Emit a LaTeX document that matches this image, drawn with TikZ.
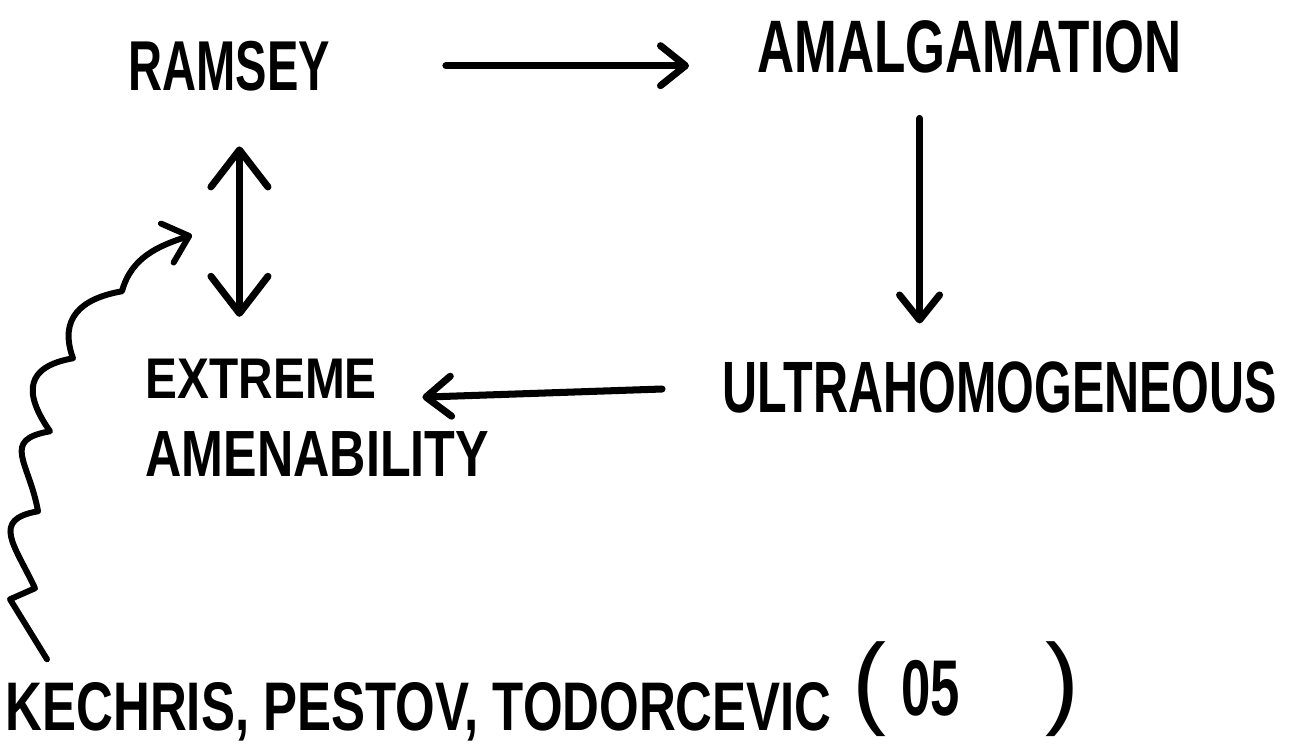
\documentclass[tikz,border=0pt]{standalone}
\usepackage{fontspec}
\setmainfont{Liberation Sans}
\usepackage{graphicx}
\usetikzlibrary{arrows.meta}

\newcommand{\stretchy}[2]{\scalebox{1}[#1]{#2}}
\newcommand{\fs}[1]{\fontsize{#1}{#1}\selectfont}

\begin{document}
\begin{tikzpicture}[every node/.style={inner sep=0pt, anchor=base west, font=\bfseries},
    pen/.style={line width=2pt, line cap=round, line join=round},
    barb/.style={-{Straight Barb[length=2.5mm,width=4mm,round]}},
    bigbarb/.style={{Straight Barb[length=3.7mm,width=5.7mm,round]}-{Straight Barb[length=3.7mm,width=5.7mm,round]}}]

    \useasboundingbox (0,0) rectangle (13.08,-7.44);

    % Ramsey and amalgamation
    \node (ramsey) at (1.28,-0.90) {\fs{13.4}\stretchy{1.5}{RAMSEY}};
    \node (amal) at (7.57,-0.72) {\fs{14.6}\stretchy{1.45}{AMALGAMATION}};

    % ultrahomogeneous
    \node (ultra) at (7.22,-4.12) {\fs{13.8}\stretchy{1.5}{ULTRAHOMOGENEOUS}};

    % extreme amenability (two lines)
    \node (extreme) at (1.45,-3.98) {\fs{13.6}\stretchy{1.2}{EXTREME}};
    \node (amen) at (1.45,-4.76) {\fs{14.3}\stretchy{1.3}{AMENABILITY}};

    % reference at the bottom
    \node (kpt) at (0.05,-7.30) {\fs{14.5}\stretchy{1.35}{KECHRIS, PESTOV, TODORCEVIC}};
    \node (year) at (8.52,-7.15) {\fs{29}\mdseries(\hspace{1.5mm}\fs{15}\bfseries\stretchy{1.5}{05}\hspace{8.5mm}\fs{29}\mdseries)};

    % arrows
    \draw[pen, barb, shorten <=1.15cm, shorten >=0.68cm] (ramsey.east) -- (ramsey.east -| amal.west);
    \draw[pen, barb, shorten <=0.45cm, shorten >=0.37cm] ([xshift=-5mm]amal.south) -- ([xshift=-5mm]amal.south |- ultra.north);
    \draw[pen, barb, shorten <=0.6cm, shorten >=0.45cm] (ultra.west) -- (extreme.south east);
    \draw[pen, bigbarb, shorten <=0.55cm, shorten >=0.41cm] ([xshift=1mm]ramsey.south) -- ([xshift=1mm]ramsey.south |- extreme.north);

    % wavy line from the reference
    \coordinate (hit) at (1.92,-2.35);
    \draw[line width=1.7pt, line cap=round, line join=round, -{Straight Barb[length=2.3mm,width=4.1mm,round]}]
        ([shift={(0.42,0.22)}]kpt.north west) -- ++(-0.37,0.60) -- ++(0.25,0.11)
        to[out=115,in=190,looseness=1.6] ++(0.03,0.77)
        to[out=100,in=190,looseness=1.6] ++(0.12,0.80)
        to[out=125,in=190,looseness=1.6] ++(0.23,0.73)
        to[out=110,in=190,looseness=1.3] ++(0.49,0.67)
        to[out=75,in=198] (hit);

\end{tikzpicture}
\end{document}
